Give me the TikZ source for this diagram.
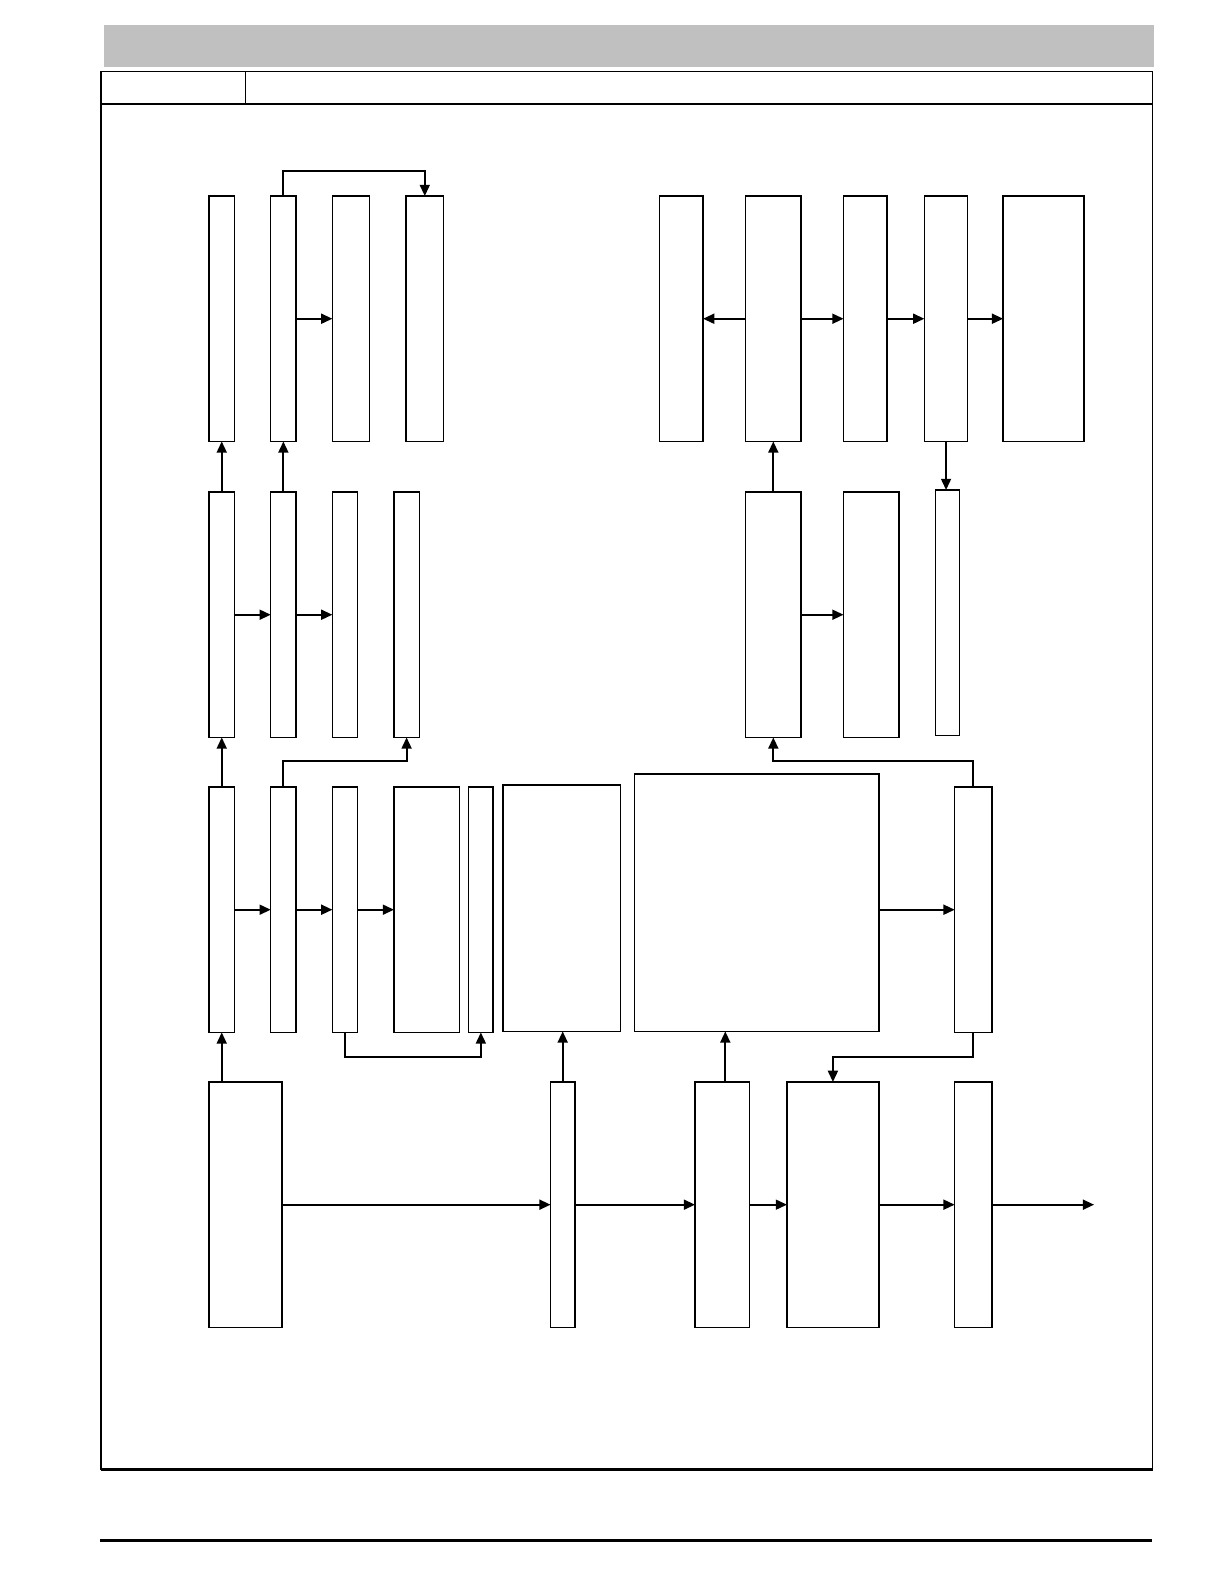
\documentclass[tikz,border=0pt]{standalone}
\usepackage{xcolor}
\definecolor{cLine}{HTML}{000000}
\definecolor{cBar}{HTML}{C0C0C0}
\usepackage{tikz}
\usetikzlibrary{positioning,arrows.meta,fit,calc}
\tikzset{
  node-box/.style={draw=cLine,line width=0.7pt,inner sep=0pt,outer sep=0pt},
  arrow/.style={-{Triangle[length=5.6pt,width=5pt]},line width=0.9pt,draw=cLine},
  frame-line/.style={draw=cLine,line width=0.7pt},
  rule-line/.style={draw=cLine,line width=1.4pt},
}

\begin{document}
\begin{tikzpicture}[x=0.505pt,y=-0.505pt]
  \useasboundingbox (0,0) rectangle (1212,1568);
  % page head and frame
  \fill[cBar] (103,25) rectangle (1142,66);
  \draw[frame-line] (100,1455) -- (100,71) -- (1141,71) -- (1141,1455);
  \draw[frame-line] (100,103) -- (1141,103);
  \draw[frame-line] (243,71) -- (243,103);
  \draw[rule-line] (100,1455) -- (1141,1455);
  \draw[rule-line] (99,1525) -- (1140,1525);

  % row 1
  \node[node-box,fit={(207,194) (232,437)}] (a1) {};
  \node[node-box,fit={(268,194) (293,437)}] (a2) {};
  \node[node-box,fit={(329,194) (366,437)}] (a3) {};
  \node[node-box,fit={(402,194) (439,437)}] (a4) {};
  \node[node-box,fit={(653,194) (696,437)}] (b1) {};
  \node[node-box,fit={(738,194) (793,437)}] (b2) {};
  \node[node-box,fit={(835,194) (878,437)}] (b3) {};
  \node[node-box,fit={(915,194) (958,437)}] (b4) {};
  \node[node-box,fit={(993,194) (1073,437)}] (b5) {};
  % row 2
  \node[node-box,fit={(207,487) (232,730)}] (c1) {};
  \node[node-box,fit={(268,487) (293,730)}] (c2) {};
  \node[node-box,fit={(329,487) (354,730)}] (c3) {};
  \node[node-box,fit={(390,487) (415,730)}] (c4) {};
  \node[node-box,fit={(738,487) (793,730)}] (d1) {};
  \node[node-box,fit={(835,487) (890,730)}] (d2) {};
  \node[node-box,fit={(926,485) (950,728)}] (d3) {};
  % row 3
  \node[node-box,fit={(207,779) (232,1022)}] (e1) {};
  \node[node-box,fit={(268,779) (293,1022)}] (e2) {};
  \node[node-box,fit={(329,779) (354,1022)}] (e3) {};
  \node[node-box,fit={(390,779) (455,1022)}] (e4) {};
  \node[node-box,fit={(464,779) (488,1022)}] (e5) {};
  \node[node-box,fit={(498,777) (614,1021)}] (e6) {};
  \node[node-box,fit={(628,766) (870,1021)}] (e7) {};
  \node[node-box,fit={(945,779) (982,1022)}] (e8) {};
  % row 4
  \node[node-box,fit={(207,1071) (279,1314)}] (g1) {};
  \node[node-box,fit={(545,1071) (569,1314)}] (g2) {};
  \node[node-box,fit={(688,1071) (742,1314)}] (g3) {};
  \node[node-box,fit={(779,1071) (870,1314)}] (g4) {};
  \node[node-box,fit={(945,1071) (982,1314)}] (g5) {};
  \coordinate (out) at (1083,1192.5);

  % connectors
  \draw[arrow] (a2.north) -- ++(0,-25) -| (a4.north);
  \draw[arrow] (a2.east) -- (a3.west);
  \draw[arrow] (b2.west) -- (b1.east);
  \draw[arrow] (b2.east) -- (b3.west);
  \draw[arrow] (b3.east) -- (b4.west);
  \draw[arrow] (b4.east) -- (b5.west);
  \draw[arrow] (b4.south) -- (b4.south |- d3.north);
  \draw[arrow] (c1.north) -- (a1.south);
  \draw[arrow] (c2.north) -- (a2.south);
  \draw[arrow] (c1.east) -- (c2.west);
  \draw[arrow] (c2.east) -- (c3.west);
  \draw[arrow] (d1.north) -- (b2.south);
  \draw[arrow] (d1.east) -- (d2.west);
  \draw[arrow] (e1.north) -- (c1.south);
  \draw[arrow] (e2.north) -- ++(0,-26) -| (c4.south);
  \draw[arrow] (e1.east) -- (e2.west);
  \draw[arrow] (e2.east) -- (e3.west);
  \draw[arrow] (e3.east) -- (e4.west);
  \draw[arrow] (e3.south) -- ++(0,24) -| (e5.south);
  \draw[arrow] (e7.east |- e8.west) -- (e8.west);
  \draw[arrow] (e8.north) -- ++(0,-26) -| (d1.south);
  \draw[arrow] (e8.south) -- ++(0,24) -| (g4.north);
  \draw[arrow] (g1.north -| e1.south) -- (e1.south);
  \draw[arrow] (g2.north) -- (g2.north |- e6.south);
  \draw[arrow] ([xshift=1.5pt]g3.north) -- ([xshift=1.5pt]g3.north |- e7.south);
  \draw[arrow] (g1.east |- g2.west) -- (g2.west);
  \draw[arrow] (g2.east) -- (g3.west);
  \draw[arrow] (g3.east) -- (g4.west);
  \draw[arrow] (g4.east) -- (g5.west);
  \draw[arrow] (g5.east) -- (out);
\end{tikzpicture}
\end{document}
